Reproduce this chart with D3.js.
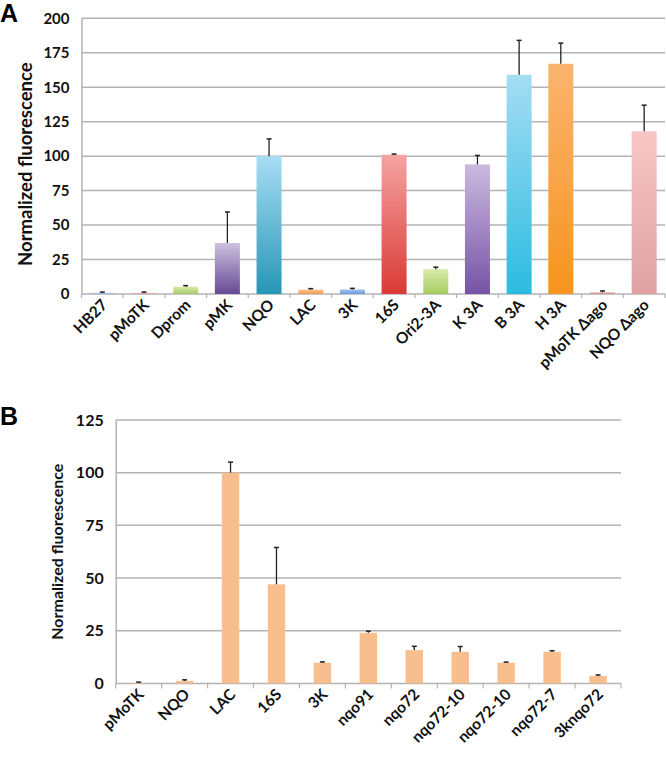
<!DOCTYPE html>
<html>
<head>
<meta charset="utf-8">
<script src="https://cdn.jsdelivr.net/npm/d3@7"></script>
<style>
  html, body { margin: 0; padding: 0; background: #fff; }
  svg { display: block; }
  text { font-family: Lato, "Liberation Sans", Arial, sans-serif; }
</style>
</head>
<body>
<svg id="chart" width="666" height="759"></svg>
<script>
// ---------- Panel A data ----------
const categoriesA = ["HB27", "pMoTK", "Dprom", "pMK", "NQO", "LAC", "3K", "16S", "Ori2-3A", "K 3A", "B 3A", "H 3A", "pMoTK \u0394ago", "NQO \u0394ago"];
const valuesA = [0.8, 0.8, 5.3, 37, 100, 3.2, 3.3, 101, 18, 94, 159, 167, 1.2, 118];
const errorsA = [0.6, 0.6, 0.8, 22.5, 12.5, 0.7, 0.8, 0.5, 1.5, 6.5, 25, 15, 1.0, 19];
const colorTopA = ["#aac6ea", "#e8bcbb", "#d9eaaa", "#cdc0e0", "#a8ddf5", "#fbc392", "#a6c4ec", "#f5a3a3", "#d9eaa9", "#cbbadf", "#a5ddf3", "#fbb46e", "#e8aeac", "#f8c6c6"];
const colorBottomA = ["#8db3e2", "#d99694", "#a8cc6a", "#654a94", "#2696b6", "#f79a4f", "#6b9be0", "#d93a35", "#a6cc60", "#7653a6", "#2cbbe0", "#f7941e", "#d98c8a", "#dfa2a4"];
const ticksA = [0, 25, 50, 75, 100, 125, 150, 175, 200];

// ---------- Panel B data ----------
const categoriesB = ["pMoTK", "NQO", "LAC", "16S", "3K", "nqo91", "nqo72", "nqo72-10", "nqo72-10", "nqo72-7", "3knqo72"];
const valuesB = [0.3, 1.2, 100, 47, 9.8, 24, 15.8, 15, 9.8, 15, 3.5];
const errorsB = [0.3, 0.5, 5, 17.5, 0.4, 0.8, 1.8, 2.5, 0.3, 0.5, 0.5];
const colorB = "#f9be8e";
const ticksB = [0, 25, 50, 75, 100, 125];

const yTitle = "Normalized fluorescence";

const svg = d3.select("#chart");
const defs = svg.append("defs");
const gridColor = "#b3b3b3";

function drawPanel(opts) {
  const { cats, vals, errs, fillFn, ticks, x0, x1, yTop, yBot, yMax, letter, letterY,
          tickFont, titleFont, titleX, titleShift, labelFont, pad, ticksDown } = opts;
  const x = d3.scaleBand().domain(d3.range(cats.length)).range([x0, x1])
    .paddingInner(pad).paddingOuter(pad / 2);
  const y = d3.scaleLinear().domain([0, yMax]).range([yBot, yTop]);
  const g = svg.append("g");

  // gridlines
  g.selectAll(".grid").data(ticks.filter(t => t > 0)).enter().append("line")
    .attr("x1", x0).attr("x2", x1)
    .attr("y1", d => y(d)).attr("y2", d => y(d))
    .attr("stroke", gridColor).attr("stroke-width", 1.5);

  // y axis
  const yAxis = d3.axisLeft(y).tickValues(ticks).tickSize(0).tickPadding(12);
  const ya = g.append("g").attr("transform", `translate(${x0},0)`).call(yAxis);
  ya.select(".domain").attr("stroke", gridColor).attr("stroke-width", 1.5);
  ya.selectAll("text").attr("font-size", tickFont).attr("font-weight", "bold")
    .attr("fill", "#111").style("font-family", "Lato, 'Liberation Sans', Arial, sans-serif");

  // x axis
  const xa = g.append("g").attr("transform", `translate(0,${yBot})`);
  xa.append("line").attr("x1", x0).attr("x2", x1).attr("y1", 0).attr("y2", 0)
    .attr("stroke", gridColor).attr("stroke-width", 1.5);
  xa.selectAll(".tk").data(d3.range(cats.length + 1)).enter().append("line")
    .attr("x1", i => i === cats.length ? x1 : x(i) - x.step() * pad / 2)
    .attr("x2", i => i === cats.length ? x1 : x(i) - x.step() * pad / 2)
    .attr("y1", 0).attr("y2", ticksDown)
    .attr("stroke", gridColor).attr("stroke-width", 1.2);

  // bars
  g.selectAll(".bar").data(vals).enter().append("rect")
    .attr("x", (d, i) => x(i)).attr("width", x.bandwidth())
    .attr("y", d => y(d)).attr("height", d => yBot - y(d))
    .attr("fill", (d, i) => fillFn(i));

  // error bars
  const eb = g.selectAll(".err").data(vals).enter().append("g");
  eb.append("line")
    .attr("x1", (d, i) => x(i) + x.bandwidth() / 2).attr("x2", (d, i) => x(i) + x.bandwidth() / 2)
    .attr("y1", d => y(d)).attr("y2", (d, i) => y(d + errs[i]))
    .attr("stroke", "#222").attr("stroke-width", 1.3);
  eb.append("line")
    .attr("x1", (d, i) => x(i) + x.bandwidth() / 2 - 2.5).attr("x2", (d, i) => x(i) + x.bandwidth() / 2 + 2.5)
    .attr("y1", (d, i) => y(d + errs[i])).attr("y2", (d, i) => y(d + errs[i]))
    .attr("stroke", "#222").attr("stroke-width", 1.5);

  // x labels
  g.selectAll(".xl").data(cats).enter().append("text")
    .attr("transform", (d, i) => `translate(${x(i) + x.bandwidth() / 2 + 6},${yBot + 12}) rotate(-45)`)
    .attr("text-anchor", "end").attr("font-size", labelFont).attr("font-weight", "bold")
    .attr("fill", "#111").text(d => d);

  // y title
  g.append("text")
    .attr("transform", `translate(${titleX},${(yTop + yBot) / 2 + titleShift}) rotate(-90)`)
    .attr("text-anchor", "middle").attr("font-size", titleFont).attr("font-weight", "bold")
    .attr("fill", "#111").text(yTitle);

  // panel letter
  svg.append("text").attr("x", 0).attr("y", letterY)
    .attr("font-size", 25).attr("font-weight", "bold").attr("fill", "#000")
    .style("font-family", "'Liberation Sans', Arial, sans-serif").text(letter);
}

// gradients for panel A
categoriesA.forEach((c, i) => {
  const lg = defs.append("linearGradient").attr("id", "gA" + i)
    .attr("x1", 0).attr("y1", 0).attr("x2", 0).attr("y2", 1);
  lg.append("stop").attr("offset", "0%").attr("stop-color", colorTopA[i]);
  lg.append("stop").attr("offset", "100%").attr("stop-color", colorBottomA[i]);
});

drawPanel({
  cats: categoriesA, vals: valuesA, errs: errorsA, fillFn: i => `url(#gA${i})`,
  ticks: ticksA, x0: 81.5, x1: 665, yTop: 18.3, yBot: 294, yMax: 200,
  letter: "A", letterY: 22, tickFont: 15, titleFont: 18.5, titleX: 32, titleShift: 8, labelFont: 15.5,
  pad: 0.4, ticksDown: 4
});

drawPanel({
  cats: categoriesB, vals: valuesB, errs: errorsB, fillFn: i => colorB,
  ticks: ticksB, x0: 115.7, x1: 621, yTop: 420, yBot: 683.4, yMax: 125,
  letter: "B", letterY: 425, tickFont: 16, titleFont: 16, titleX: 63, titleShift: 0, labelFont: 15.5,
  pad: 0.62, ticksDown: 5
});
</script>
</body>
</html>
